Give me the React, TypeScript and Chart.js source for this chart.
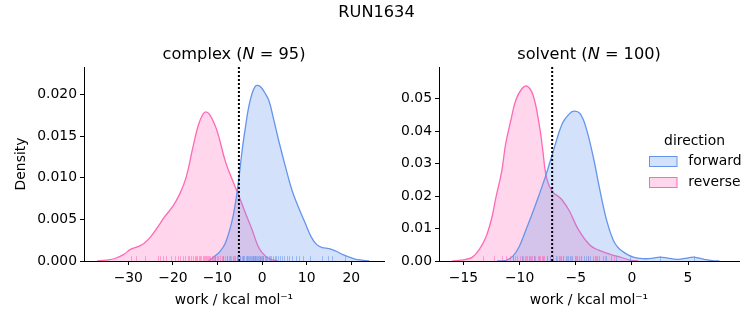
import React, { useEffect, useRef } from "react";
import { Chart, registerables } from "chart.js";
Chart.register(...registerables);

const W = 753;
const H = 325;
const FONT = "'DejaVu Sans', sans-serif";
const TXT = "#000";
const BLUE = "rgb(100,149,237)";
const PINK = "rgb(255,105,180)";
const BLUE_FILL = "rgba(100,149,237,0.28)";
const PINK_FILL = "rgba(255,105,180,0.27)";
const BLUE_RUG = "rgba(100,149,237,0.55)";
const PINK_RUG = "rgba(255,105,180,0.55)";

const figureTitle = "RUN1634";
const panelNames = ["complex", "solvent"];
const panelN = [95, 100];
const directions = ["forward", "reverse"];
const legendTitle = "direction";
const xAxisLabel = "work / kcal mol\u207B\u00B9";
const yAxisLabel = "Density";
const markerValues = [-5.2, -7.1];

// complex KDE curves
const complexForwardX = [-12, -10.8, -9.5, -8.2, -6.7, -5.6, -4.4, -3.7, -3.0, -2.2, -1.5, -1.0, -0.3, 0.5, 1.5, 2.6, 3.7, 5.2, 6.7, 8.2, 9.7, 11.0, 12.2, 13.5, 15.0, 16.5, 18.0, 19.4, 21.0, 22.4, 24.0];
const complexForwardY = [0, 0.0005, 0.0011, 0.0022, 0.0049, 0.0083, 0.0136, 0.0162, 0.0185, 0.0202, 0.0210, 0.0211, 0.0209, 0.0203, 0.0193, 0.0170, 0.0145, 0.0114, 0.0085, 0.0064, 0.0045, 0.0029, 0.0020, 0.0016, 0.0015, 0.0012, 0.0008, 0.0005, 0.0002, 0.0001, 0];
const complexReverseX = [-37, -35, -33, -31, -29.5, -28, -26.5, -25, -23.5, -22, -20, -18.5, -17, -15.5, -14.3, -13.3, -12.6, -11.8, -10.8, -9.9, -8.2, -6.7, -5.2, -3.7, -2.2, -1.0, 0, 1.5, 3.5];
const complexReverseY = [0, 0.0001, 0.0003, 0.0008, 0.0014, 0.0017, 0.0021, 0.0029, 0.0040, 0.0052, 0.0066, 0.0080, 0.0101, 0.0137, 0.0163, 0.0176, 0.0179, 0.0176, 0.0166, 0.0153, 0.0119, 0.0098, 0.0078, 0.0057, 0.0037, 0.0019, 0.0010, 0.0003, 0];

// solvent KDE curves
const solventForwardX = [-12, -11.2, -10.6, -10.05, -9.5, -8.87, -8.3, -7.68, -6.94, -6.2, -5.6, -5.16, -4.63, -4.1, -3.44, -2.85, -2.25, -1.66, -1.2, -0.77, -0.3, 0.12, 0.7, 1.3, 1.9, 2.5, 3.2, 3.98, 4.7, 5.46, 6.1, 6.65, 7.2, 7.8];
const solventForwardY = [0, 0.0002, 0.0015, 0.0043, 0.0090, 0.0146, 0.0200, 0.0262, 0.0345, 0.0423, 0.0452, 0.0461, 0.0454, 0.0412, 0.0320, 0.0218, 0.0125, 0.0064, 0.0040, 0.0028, 0.0018, 0.0012, 0.0008, 0.0007, 0.0009, 0.0012, 0.0009, 0.0005, 0.0008, 0.0012, 0.0008, 0.0004, 0.0001, 0];
const solventReverseX = [-16, -15.4, -14.8, -14.2, -13.6, -13.0, -12.5, -12.1, -11.6, -11.24, -10.8, -10.35, -9.8, -9.34, -8.8, -8.27, -7.95, -7.68, -7.35, -7.0, -6.6, -6.2, -5.6, -4.9, -4.6, -4.1, -3.6, -3.0, -2.4, -1.8, -1.1, -0.2, 0.6];
const solventReverseY = [0, 0.0002, 0.0005, 0.0012, 0.0035, 0.0074, 0.0130, 0.0197, 0.0275, 0.0361, 0.0430, 0.0494, 0.0530, 0.0538, 0.0510, 0.0423, 0.0345, 0.0269, 0.0230, 0.0210, 0.0200, 0.0187, 0.0156, 0.0105, 0.0088, 0.0063, 0.0045, 0.0034, 0.0026, 0.0019, 0.0013, 0.0003, 0];

// rug samples (work values)
const complexForwardWork = [-10.5, -8.8, -7.9, -7.2, -6.6, -6.1, -5.7, -5.3, -4.9, -4.6, -4.3, -4.0, -3.7, -3.4, -3.2, -2.9, -2.7, -2.5, -2.3, -2.1, -1.9, -1.7, -1.5, -1.3, -1.1, -0.9, -0.7, -0.5, -0.3, -0.1, 0.1, 0.3, 0.6, 0.9, 1.2, 1.5, 1.8, 2.1, 2.4, 2.8, 3.2, 3.6, 4.0, 4.5, 5.0, 5.5, 6.1, 6.8, 7.5, 8.3, 9.2, 10.8, 13.4, 14.8, 15.6, 18.6];
const complexReverseWork = [-29.5, -28.2, -26.3, -23.4, -22.8, -22.2, -21.5, -20.4, -19.6, -18.9, -18.3, -17.8, -17.2, -16.7, -16.3, -15.9, -15.5, -15.1, -14.8, -14.5, -14.2, -13.9, -13.6, -13.3, -13.0, -12.8, -12.5, -12.3, -12.1, -11.8, -11.6, -11.3, -11.1, -10.8, -10.5, -10.2, -9.9, -9.5, -9.1, -8.7, -8.3, -7.9, -7.4, -6.9, -6.3, -5.7, -5.0, -4.2, -3.3, -2.1, -0.4];
const solventForwardWork = [-10.6, -9.8, -9.2, -8.7, -8.3, -7.9, -7.6, -7.3, -7.0, -6.8, -6.5, -6.3, -6.1, -5.9, -5.7, -5.5, -5.3, -5.1, -4.9, -4.7, -4.5, -4.3, -4.1, -3.9, -3.7, -3.5, -3.3, -3.1, -2.9, -2.6, -2.3, -1.9, -1.4, -0.2, 2.5, 5.5];
const solventReverseWork = [-13.3, -12.3, -11.6, -11.2, -10.9, -10.6, -10.4, -10.2, -10.0, -9.8, -9.7, -9.5, -9.4, -9.3, -9.1, -9.0, -8.9, -8.7, -8.6, -8.4, -8.2, -8.0, -7.8, -7.6, -7.3, -7.0, -6.7, -6.4, -6.1, -5.8, -5.4, -5.0, -4.5, -3.9, -3.2, -2.4, -1.6];

const curves = [
  { fx: complexForwardX, fy: complexForwardY, rx: complexReverseX, ry: complexReverseY, fw: complexForwardWork, rw: complexReverseWork },
  { fx: solventForwardX, fy: solventForwardY, rx: solventReverseX, ry: solventReverseY, fw: solventForwardWork, rw: solventReverseWork },
];

const layoutCfg = [
  { xMin: -39.93, xMax: 27.33, xStep: 10, yMax: 0.0233, yStep: 0.005, yDec: 3, padRight: 369, yWidth: 84, yTitle: true },
  { xMin: -17.18, xMax: 9.54, xStep: 5, yMax: 0.0597, yStep: 0.01, yDec: 2, padRight: 14, yWidth: 439, yTitle: false },
];

const fmtX = (v: number) => (v < 0 ? "\u2212" + Math.abs(v) : String(v));
const zip = (xs: number[], ys: number[]) => xs.map((x, i) => ({ x, y: ys[i] }));

function makeConfig(i: number): any {
  const c = curves[i];
  const L = layoutCfg[i];
  const plugins: any[] = [
    {
      id: "rug",
      afterDatasetsDraw(chart: any) {
        const { ctx, chartArea, scales } = chart;
        const h = (chartArea.bottom - chartArea.top) * 0.025;
        ctx.save();
        ctx.lineWidth = 1;
        const sets: [number[], string][] = [[c.rw, PINK_RUG], [c.fw, BLUE_RUG]];
        sets.forEach(([vals, col]) => {
          ctx.strokeStyle = col;
          vals.forEach((v) => {
            const x = Math.round(scales.x.getPixelForValue(v)) + 0.5;
            ctx.beginPath();
            ctx.moveTo(x, chartArea.bottom);
            ctx.lineTo(x, chartArea.bottom - h);
            ctx.stroke();
          });
        });
        ctx.restore();
      },
    },
    {
      id: "mtitle",
      afterDraw(chart: any) {
        const { ctx, chartArea } = chart;
        const parts = [
          { t: panelNames[i] + " (", it: false },
          { t: "N", it: true },
          { t: " = " + panelN[i] + ")", it: false },
        ];
        ctx.save();
        ctx.fillStyle = TXT;
        ctx.textBaseline = "middle";
        ctx.textAlign = "left";
        const widths = parts.map((p) => {
          ctx.font = `${p.it ? "italic " : ""}16.2px ${FONT}`;
          return ctx.measureText(p.t).width;
        });
        const total = widths.reduce((a, b) => a + b, 0);
        let x = (chartArea.left + chartArea.right) / 2 - total / 2;
        parts.forEach((p, k) => {
          ctx.font = `${p.it ? "italic " : ""}16.2px ${FONT}`;
          ctx.fillText(p.t, x, 55);
          x += widths[k];
        });
        if (i === 0) {
          ctx.font = `16.2px ${FONT}`;
          ctx.textAlign = "center";
          ctx.fillText(figureTitle, W / 2, 13);
        }
        if (i === 1) {
          ctx.font = `13.9px ${FONT}`;
          ctx.textAlign = "center";
          ctx.fillText(legendTitle, 694.5, 141);
          const rows: [string, string, string][] = [
            [directions[0], BLUE_FILL, BLUE],
            [directions[1], PINK_FILL, PINK],
          ];
          rows.forEach(([name, fill, line], k) => {
            const cy = 161.5 + k * 21;
            ctx.fillStyle = fill;
            ctx.fillRect(649.5, cy - 5, 27.5, 10);
            ctx.strokeStyle = line;
            ctx.lineWidth = 1;
            ctx.strokeRect(649.5, cy - 5, 27.5, 10);
            ctx.fillStyle = TXT;
            ctx.textAlign = "left";
            ctx.fillText(name, 688.3, cy);
          });
        }
        ctx.restore();
      },
    },
  ];

  return {
    type: "line",
    data: {
      datasets: [
        {
          data: [{ x: markerValues[i], y: 0 }, { x: markerValues[i], y: L.yMax }],
          borderColor: "#000",
          borderWidth: 2,
          borderDash: [2, 2],
          pointRadius: 0,
          fill: false,
          tension: 0,
          order: 0,
        },
        {
          label: directions[0],
          data: zip(c.fx, c.fy),
          borderColor: BLUE,
          backgroundColor: BLUE_FILL,
          borderWidth: 1.3,
          pointRadius: 0,
          fill: "origin",
          tension: 0.4,
          order: 1,
        },
        {
          label: directions[1],
          data: zip(c.rx, c.ry),
          borderColor: PINK,
          backgroundColor: PINK_FILL,
          borderWidth: 1.3,
          pointRadius: 0,
          fill: "origin",
          tension: 0.4,
          order: 2,
        },
      ],
    },
    options: {
      responsive: false,
      animation: false,
      events: [],
      layout: { padding: { left: 0, right: L.padRight, top: 67, bottom: 0 } },
      plugins: { legend: { display: false }, tooltip: { enabled: false }, title: { display: false } },
      scales: {
        x: {
          type: "linear",
          min: L.xMin,
          max: L.xMax,
          afterFit(scale: any) {
            scale.height = 64;
          },
          ticks: {
            stepSize: L.xStep,
            includeBounds: false,
            autoSkip: false,
            maxRotation: 0,
            padding: 5,
            color: TXT,
            font: { family: FONT, size: 13.9 },
            callback: (v: any) => fmtX(Number(v)),
          },
          grid: { display: true, drawOnChartArea: false, drawTicks: true, tickLength: 4, tickColor: "#000", tickWidth: 1 },
          border: { display: true, color: "#000", width: 1 },
          title: {
            display: true,
            text: xAxisLabel,
            color: TXT,
            font: { family: FONT, size: 13.9 },
            padding: { top: 0, bottom: 16.7 },
          },
        },
        y: {
          type: "linear",
          min: 0,
          max: L.yMax,
          afterFit(scale: any) {
            scale.width = L.yWidth;
          },
          ticks: {
            stepSize: L.yStep,
            includeBounds: false,
            autoSkip: false,
            padding: 3,
            color: TXT,
            font: { family: FONT, size: 13.9 },
            callback: (v: any) => Number(v).toFixed(L.yDec),
          },
          grid: { display: true, drawOnChartArea: false, drawTicks: true, tickLength: 4, tickColor: "#000", tickWidth: 1 },
          border: { display: true, color: "#000", width: 1 },
          title: {
            display: L.yTitle,
            text: yAxisLabel,
            color: TXT,
            font: { family: FONT, size: 13.9 },
            padding: { top: 13, bottom: 0 },
          },
        },
      },
    },
    plugins,
  };
}

export default function App() {
  const aRef = useRef<HTMLCanvasElement>(null);
  const bRef = useRef<HTMLCanvasElement>(null);
  useEffect(() => {
    const a = new Chart(aRef.current as HTMLCanvasElement, makeConfig(0));
    const b = new Chart(bRef.current as HTMLCanvasElement, makeConfig(1));
    return () => {
      a.destroy();
      b.destroy();
    };
  }, []);
  return (
    <div style={{ position: "absolute", left: 0, top: 0, width: W, height: H, background: "#fff" }}>
      <canvas ref={aRef} width={W} height={H} style={{ position: "absolute", left: 0, top: 0 }} />
      <canvas ref={bRef} width={W} height={H} style={{ position: "absolute", left: 0, top: 0 }} />
    </div>
  );
}
